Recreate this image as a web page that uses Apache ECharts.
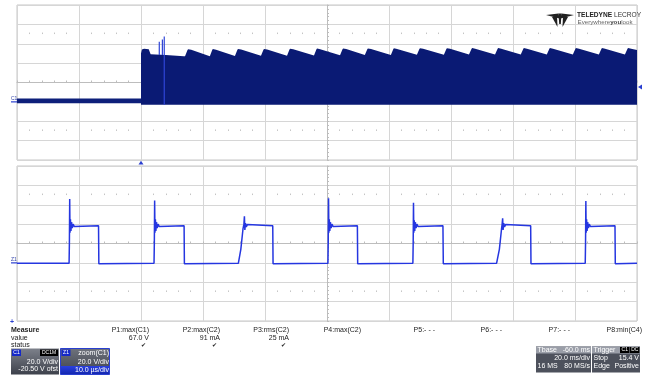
<!DOCTYPE html>
<html><head><meta charset="utf-8">
<script src="https://cdn.jsdelivr.net/npm/echarts@6/dist/echarts.min.js"></script>
<style>html,body{margin:0;padding:0;background:#fff}#c{width:645px;height:375px}</style>
</head><body><div id="c"></div>
<script>
// ---------------- data ----------------
const topTimeRange = [-40, 160];   // ms, 20 ms/div
const zoomTimeRange = [0, 100];    // µs, 10 µs/div
const voltRange = [-60, 100];      // V, 20 V/div

// C1 before the trigger: thin noisy band around 0 V
const preBandT = [-40, 0];
const preBandHiV = [3.5, 3.5];
const preBandLoV = [-1.5, -1.5];

// C1 after the trigger: upper envelope of the switching waveform [ms, V]
const bandTop = [
 [0,50],[0.3,54],[1.0,54.8],[2.5,54.4],[3.1,49.2],[8,48.4],[13.8,47.2],
 [14.2,47.0],[15.0,53.6],[15.2,54.4],[16.2,53.8],
 [22.2,47.2],[23.0,53.7],[23.2,54.5],[24.2,53.9],
 [30.3,47.3],[31.1,53.8],[31.3,54.6],[32.3,54.0],
 [38.7,47.5],[39.5,53.9],[39.7,54.7],[40.7,54.1],
 [47.1,47.7],[47.9,54.0],[48.1,54.8],[49.1,54.2],
 [55.8,47.9],[56.6,54.2],[56.8,55.0],[57.8,54.4],
 [64.2,48.1],[65.0,54.3],[65.2,55.1],[66.2,54.5],
 [72.2,48.3],[73.0,54.4],[73.2,55.2],[74.2,54.6],
 [80.6,48.5],[81.4,54.5],[81.6,55.3],[82.6,54.7],
 [89.0,48.6],[89.8,54.6],[90.0,55.4],[91.0,54.8],
 [97.7,48.7],[98.5,54.6],[98.7,55.4],[99.7,54.8],
 [105.8,48.8],[106.6,54.7],[106.8,55.5],[107.8,54.9],
 [114.2,48.8],[115.0,54.7],[115.2,55.5],[116.2,54.9],
 [122.5,48.8],[123.3,54.7],[123.5,55.5],[124.5,54.9],
 [130.9,48.8],[131.7,54.7],[131.9,55.5],[132.9,54.9],
 [139.3,48.8],[140.1,54.7],[140.3,55.5],[141.3,54.9],
 [147.7,48.8],[148.5,54.7],[148.7,55.5],[149.7,54.9],
 [156.1,48.8],[156.9,54.7],[157.1,55.5],[158.1,54.9],
 [160,53.6]
];
// lower envelope [ms, V]
const bandLow = [[0,-2.9],[160,-2.9]];

// start-up spikes on C1
const spikeT = [5.9, 6.9, 7.5];
const spikeTopV = [62, 64.5, 67.4];
const spikeBaseV = [48.5, 48.5, -2.9];

// zoom(C1) trace [µs, V]
const zoomTrace = [
 [0,-0.5],[8.40,-0.5],[8.45,20],[8.50,66],[8.55,31],[8.62,45],[8.70,33],[8.80,42],[8.92,36],[9.05,40],[9.25,37.5],[9.5,38.8],[13.15,38.3],[13.2,-1],
 [22.10,-0.5],[22.15,20],[22.20,64.5],[22.25,31],[22.32,45],[22.40,33],[22.50,42],[22.62,36],[22.75,40],[22.95,37.5],[23.2,38.8],[26.95,38.3],[27.0,-1],
 [35.7,-0.5],[36.1,14],[36.45,35],[36.6,40],[36.68,48],[36.75,34],[36.85,41],[36.98,37],[37.15,39.5],[37.4,38.2],[41.25,38.3],[41.3,-1],
 [50.15,-0.5],[50.2,22],[50.25,66.6],[50.3,31],[50.37,45],[50.45,33],[50.55,42],[50.67,36],[50.8,40],[51.0,37.5],[51.25,38.8],[54.9,38.3],[54.95,-1],
 [63.85,-0.5],[63.9,20],[63.95,62],[64.0,31],[64.07,44],[64.15,33],[64.25,42],[64.37,36],[64.5,40],[64.7,37.5],[64.95,38.8],[68.7,38.3],[68.76,-1],
 [77.35,-0.5],[77.8,14],[78.15,35],[78.25,40],[78.33,46],[78.4,34],[78.5,41],[78.63,37],[78.8,39.5],[79.05,38.2],[82.85,38.3],[82.9,-1],
 [91.65,-0.5],[91.7,20],[91.75,63.8],[91.8,31],[91.87,45],[91.95,33],[92.05,42],[92.17,36],[92.3,40],[92.5,37.5],[92.75,38.8],[96.45,38.3],[96.5,-1],[100,-0.5]
];

const triggerTime = 0;       // ms
const triggerLevelV = 15.4;  // V
const groundV = 0;

const measureLabels = ["P1:max(C1)","P2:max(C2)","P3:rms(C2)","P4:max(C2)","P5:- - -","P6:- - -","P7:- - -","P8:min(C4)"];
const measureValues = ["67.0 V","91 mA","25 mA","","","","",""];
const measureStatus = [true,true,true,false,false,false,false,false];

// ---------------- layout / style ----------------
const FAM = '"Liberation Sans", Arial, sans-serif';
const GRID_COLOR = '#d6d6d6';
const AXIS_COLOR = '#bdbdbd';
const G0 = {left:17, top:5, width:620, height:155};
const G1 = {left:17, top:166, width:620, height:155};
const DIV_H = 155/8;

function mainX(grid, range, interval){
  return {gridIndex:grid, type:'value', min:range[0], max:range[1], interval,
    axisLine:{show:false,onZero:false}, axisTick:{show:false}, axisLabel:{show:false},
    splitLine:{show:true, lineStyle:{color:GRID_COLOR, width:1}}};
}
function decoX(grid, range, interval, offset, line){
  return {gridIndex:grid, type:'value', min:range[0], max:range[1], interval, position:'bottom', offset,
    axisLine:{show:line, onZero:false, lineStyle:{color:AXIS_COLOR}},
    axisTick:{show:line, inside:true, length:2, lineStyle:{color:AXIS_COLOR}},
    minorTick:{show:true, splitNumber:5, length: line?2:1.5, lineStyle:{color: line?AXIS_COLOR:'#c4c4c4'}},
    axisLabel:{show:false}, splitLine:{show:false}};
}
function mainY(grid){
  return {gridIndex:grid, type:'value', min:voltRange[0], max:voltRange[1], interval:20,
    axisLine:{show:false,onZero:false}, axisTick:{show:false}, axisLabel:{show:false},
    splitLine:{show:true, lineStyle:{color:GRID_COLOR, width:1}}};
}
function decoY(grid){
  return {gridIndex:grid, type:'value', min:voltRange[0], max:voltRange[1], interval:20, position:'left', offset:-310,
    axisLine:{show:true, onZero:false, lineStyle:{color:AXIS_COLOR}},
    axisTick:{show:true, inside:true, length:2, lineStyle:{color:AXIS_COLOR}},
    minorTick:{show:true, splitNumber:5, length:2, lineStyle:{color:AXIS_COLOR}},
    axisLabel:{show:false}, splitLine:{show:false}};
}

const chart = echarts.init(document.getElementById('c'), null, {renderer:'canvas'});

const option = {
  animation:false,
  backgroundColor:'#fff',
  grid:[
    Object.assign({show:true, borderColor:'#c6c6c6', borderWidth:1, backgroundColor:'#fff'}, G0),
    Object.assign({show:true, borderColor:'#c6c6c6', borderWidth:1, backgroundColor:'#fff'}, G1)
  ],
  xAxis:[
    mainX(0, topTimeRange, 20),
    decoX(0, topTimeRange, 20, -4*DIV_H, true),
    decoX(0, topTimeRange, 20, -6.5*DIV_H, false),
    decoX(0, topTimeRange, 20, -1.5*DIV_H, false),
    mainX(1, zoomTimeRange, 10),
    decoX(1, zoomTimeRange, 10, -4*DIV_H, true),
    decoX(1, zoomTimeRange, 10, -6.5*DIV_H, false),
    decoX(1, zoomTimeRange, 10, -1.5*DIV_H, false)
  ],
  yAxis:[ mainY(0), decoY(0), mainY(1), decoY(1) ],
  series:[
    { // pre-trigger band
      type:'custom', xAxisIndex:0, yAxisIndex:0, silent:true, data:[[0,0]], z:3,
      renderItem:(p, api)=>{
        const pts=[];
        for(let i=0;i<preBandT.length;i++) pts.push(api.coord([preBandT[i], preBandHiV[i]]));
        for(let i=preBandT.length-1;i>=0;i--) pts.push(api.coord([preBandT[i], preBandLoV[i]]));
        return {type:'polygon', shape:{points:pts}, style:{fill:'#0d1f7a'}};
      }
    },
    { // switching band
      type:'custom', xAxisIndex:0, yAxisIndex:0, silent:true, data:[[0,0]], z:3,
      renderItem:(p, api)=>{
        const pts=[];
        for(const d of bandTop) pts.push(api.coord(d));
        for(let i=bandLow.length-1;i>=0;i--) pts.push(api.coord(bandLow[i]));
        return {type:'polygon', shape:{points:pts}, style:{fill:'#0a1a74'}};
      }
    },
    { // spikes
      type:'custom', xAxisIndex:0, yAxisIndex:0, silent:true, z:4,
      data: spikeT.map((t,i)=>[t, spikeBaseV[i], spikeTopV[i]]),
      renderItem:(p, api)=>{
        const a=api.coord([api.value(0), api.value(1)]);
        const b=api.coord([api.value(0), api.value(2)]);
        return {type:'line', shape:{x1:a[0],y1:a[1],x2:b[0],y2:b[1]}, style:{stroke:'#2f45d6', lineWidth:1.2}};
      }
    },
    { // zoom trace
      type:'line', xAxisIndex:4, yAxisIndex:2, data:zoomTrace, showSymbol:false, symbol:'none',
      lineStyle:{color:'#2536e0', width:1.5}, z:3, silent:true
    }
  ],
  graphic:[]
};
chart.setOption(option);

// ------------- annotations placed from the axes -------------
function txt(x,y,text,s){
  const st = Object.assign({size:7, weight:'normal', fam:FAM, fill:'#222', align:'left'}, s||{});
  return {type:'text', x, y, silent:true, z:100,
    style:{text, fill:st.fill, fontSize:st.size, fontWeight:st.weight, fontFamily:st.fam,
      textAlign:st.align, textVerticalAlign:'middle'}};
}
function rect(x,y,w,h,fill,stroke){
  return {type:'rect', silent:true, z:90, shape:{x,y,width:w,height:h}, style:{fill, stroke:stroke||null, lineWidth:stroke?1:0}};
}
function grad(a,b){ return {type:'linear',x:0,y:0,x2:0,y2:1,colorStops:[{offset:0,color:a},{offset:1,color:b}]}; }
const mctx = document.createElement('canvas').getContext('2d');
function tw(text, size, weight){ mctx.font = (weight||'normal')+' '+size+'px '+FAM; return mctx.measureText(text).width; }

const trig = chart.convertToPixel({gridIndex:0}, [triggerTime, triggerLevelV]);
const gnd0 = chart.convertToPixel({gridIndex:0}, [topTimeRange[0], groundV]);
const gnd1 = chart.convertToPixel({gridIndex:1}, [zoomTimeRange[0], groundV]);
const rightEdge = G0.left + G0.width;

const g = [];
// trigger time marker (below top grid)
g.push({type:'polygon', silent:true, z:100, shape:{points:[[trig[0]-2.5,164.5],[trig[0]+2.5,164.5],[trig[0],160.8]]}, style:{fill:'#2a3fd0'}});
// trigger level marker (right)
g.push({type:'polygon', silent:true, z:100, shape:{points:[[rightEdge+1,trig[1]],[rightEdge+5,trig[1]-2.5],[rightEdge+5,trig[1]+2.5]]}, style:{fill:'#2a3fd0'}});
// channel ground markers
g.push(txt(11, gnd0[1]-3, 'C1', {size:5, fill:'#3344aa'}));
g.push({type:'line', silent:true, z:100, shape:{x1:11,y1:gnd0[1],x2:17,y2:gnd0[1]}, style:{stroke:'#2a3fd0', lineWidth:1.2}});
g.push(txt(11, gnd1[1]-3, 'Z1', {size:5, fill:'#3344aa'}));
g.push({type:'line', silent:true, z:100, shape:{x1:11,y1:gnd1[1],x2:17,y2:gnd1[1]}, style:{stroke:'#2a3fd0', lineWidth:1.2}});
// small cross under bottom grid
g.push(txt(12, 322.5, '+', {size:7, weight:'bold', fill:'#2a3fd0', align:'center'}));

// measure table
g.push(txt(11, 330, 'Measure', {weight:'bold'}));
g.push(txt(11, 338, 'value'));
g.push(txt(11, 345.5, 'status'));
const colRight = [149, 220, 289, 361, 435, 502, 570, 642];
measureLabels.forEach((s,i)=>{
  g.push(txt(colRight[i], 330, s, {align:'right'}));
  if(measureValues[i]) g.push(txt(colRight[i], 338, measureValues[i], {align:'right'}));
  if(measureStatus[i]) g.push(txt(colRight[i]-3, 345.5, '✔', {align:'right', size:6, fam:'"DejaVu Sans"'}));
});

// C1 channel box
g.push(rect(11, 348.5, 48, 26, grad('#7d818b','#3d414b')));
g.push(rect(12, 349.5, 9, 6.5, '#1428c8'));
g.push(txt(16.5, 352.8, 'C1', {size:5, fill:'#fff', align:'center'}));
g.push(rect(40, 349.5, 18, 6.5, '#000'));
g.push(txt(49, 352.8, 'DC1M', {size:5, fill:'#fff', align:'center'}));
g.push(txt(58, 362.5, '20.0 V/div', {fill:'#fff', align:'right'}));
g.push(txt(58, 369.5, '-20.50 V ofst', {fill:'#fff', align:'right'}));
// Z1 box
g.push(rect(60.5, 348.5, 49, 26, grad('#6f737d','#3d414b'), '#2a3fd0'));
g.push(rect(61.5, 349.5, 9, 6.5, '#1428c8'));
g.push(txt(66, 352.8, 'Z1', {size:5, fill:'#fff', align:'center'}));
g.push(txt(109, 353, 'zoom(C1)', {fill:'#fff', align:'right'}));
g.push(txt(109, 362.5, '20.0 V/div', {fill:'#fff', align:'right'}));
g.push(rect(61, 366, 48, 8, grad('#2a40e0','#1428b0')));
g.push(txt(109, 369.8, '10.0 µs/div', {fill:'#fff', align:'right'}));

// Timebase box
g.push(rect(536, 346.5, 55, 26, '#4d515c'));
g.push(rect(536, 346.5, 55, 7, '#9a9ea8'));
g.push(txt(537.5, 350, 'Tbase', {fill:'#fff'}));
g.push(txt(590, 350, '-60.0 ms', {fill:'#fff', align:'right'}));
g.push(txt(590, 358.3, '20.0 ms/div', {fill:'#fff', align:'right'}));
g.push(txt(537.5, 366, '16 MS', {fill:'#fff'}));
g.push(txt(590, 366, '80 MS/s', {fill:'#fff', align:'right'}));
// Trigger box
g.push(rect(592, 346.5, 48, 26, '#4d515c'));
g.push(rect(592, 346.5, 48, 7, '#9a9ea8'));
g.push(txt(593.5, 350, 'Trigger', {fill:'#fff'}));
g.push(rect(620, 347, 9.5, 6, '#000'));
g.push(txt(624.8, 350, 'C1', {size:5, fill:'#fff', align:'center'}));
g.push(rect(630, 347, 9.5, 6, '#000'));
g.push(txt(634.8, 350, 'DC', {size:5, fill:'#fff', align:'center'}));
g.push(txt(593.5, 358.3, 'Stop', {fill:'#fff'}));
g.push(txt(639, 358.3, '15.4 V', {fill:'#fff', align:'right'}));
g.push(txt(593.5, 366, 'Edge', {fill:'#fff'}));
g.push(txt(639, 366, 'Positive', {fill:'#fff', align:'right'}));

// logo
const LOGO = '#222';
g.push({type:'polygon', silent:true, z:100, shape:{points:[[546,15],[558.5,13.5],[559.5,18.5]]}, style:{fill:LOGO}});
g.push({type:'polygon', silent:true, z:100, shape:{points:[[574,15],[561.5,13.5],[560.5,18.5]]}, style:{fill:LOGO}});
g.push({type:'polygon', silent:true, z:100, shape:{points:[[552,17],[557,16],[557.5,27]]}, style:{fill:LOGO}});
g.push({type:'polygon', silent:true, z:100, shape:{points:[[568,17],[563,16],[562.5,27]]}, style:{fill:LOGO}});
g.push({type:'polygon', silent:true, z:100, shape:{points:[[558.5,13.5],[561.5,13.5],[560.8,24],[559.2,24]]}, style:{fill:LOGO}});
let lx = 577;
g.push(txt(lx, 15.5, 'TELEDYNE', {size:6.6, weight:'bold', fill:'#222'}));
lx += tw('TELEDYNE ', 6.6, 'bold');
g.push(txt(lx, 15.5, 'LECROY', {size:6.6, fill:'#333'}));
lx = 577.5;
g.push(txt(lx, 22.5, 'Everywhere', {size:6.2, fill:'#666'}));
lx += tw('Everywhere', 6.2);
g.push(txt(lx, 22.5, 'you', {size:6.2, weight:'bold', fill:'#444'}));
lx += tw('you', 6.2, 'bold');
g.push(txt(lx, 22.5, 'look', {size:6.2, fill:'#666'}));

chart.setOption({graphic:g});
</script></body></html>
